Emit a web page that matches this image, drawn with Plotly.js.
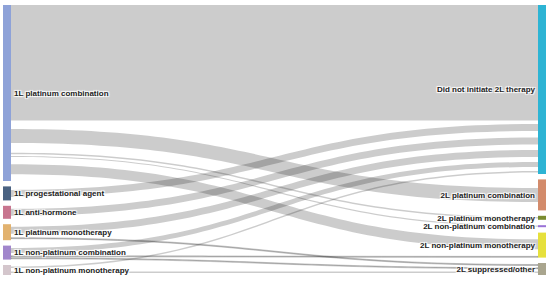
<!DOCTYPE html>
<html>
<head>
<meta charset="utf-8">
<script src="https://cdn.plot.ly/plotly-3.0.1.min.js"></script>
<style>
  html, body { margin: 0; padding: 0; background: #fff; }
  #chart { width: 550px; height: 281px; }
</style>
</head>
<body>
<div id="chart"></div>
<script>
// nodes: first six on the left, last six on the right
let nodeLabels = [
  '1L platinum combination',
  '1L progestational agent',
  '1L anti-hormone',
  '1L platinum monotherapy',
  '1L non-platinum combination',
  '1L non-platinum monotherapy',
  'Did not initiate 2L therapy',
  '2L platinum combination',
  '2L platinum monotherapy',
  '2L non-platinum combination',
  '2L non-platinum monotherapy',
  '2L suppressed/other'
]
let nodeColors = [
  '#8ea2d8', '#4a6282', '#c8758f', '#e2b26f', '#a186cc', '#d4c6cc',
  '#2db4d4', '#d38b6b', '#7a8c30', '#9a72d6', '#e6e03c', '#a9a58e'
]

// flows: full share of each pair, and the part of it drawn in grey
let linkSource = [0, 0, 0, 0, 0, 1, 2, 3, 3, 4, 4, 4, 5, 5]
let linkTarget = [6, 7, 8, 9, 10, 6, 6, 6, 11, 6, 10, 11, 6, 11]
let linkTotal  = [115.5, 31, 4, 2, 23.5, 14, 13, 12, 4, 10, 1.5, 2.5, 4.5, 5.5]
let linkShown  = [115.5, 14, 1.5, 1.2, 10, 7, 7, 7, 1, 5, 1, 1, 1.5, 1.5]

let W = 550, H = 281
let margin = {l: 3, r: 4, t: 5, b: 6}
let pad = 5.4, thick = 8

let src = [], tgt = [], val = [], col = []
let addLink = function(s, t, v, c) {
  if (v <= 0) return
  src.push(s); tgt.push(t); val.push(v); col.push(c)
}
for (let i = 0; i < linkSource.length; i++) {
  let rest = (linkTotal[i] - linkShown[i]) / 2
  addLink(linkSource[i], linkTarget[i], rest, 'rgba(0,0,0,0)')
  addLink(linkSource[i], linkTarget[i], linkShown[i], 'rgba(0,0,0,0.2)')
  addLink(linkSource[i], linkTarget[i], rest, 'rgba(0,0,0,0)')
}

// keep nodes stacked in the given order (no reshuffling by the layout)
let nodeValue = nodeLabels.map(() => 0)
for (let i = 0; i < linkSource.length; i++) {
  nodeValue[linkSource[i]] += linkTotal[i]
  nodeValue[linkTarget[i]] += linkTotal[i]
}
let plotW = W - margin.l - margin.r
let plotH = H - margin.t - margin.b
let leftIdx = [0, 1, 2, 3, 4, 5], rightIdx = [6, 7, 8, 9, 10, 11]
let colSum = idx => idx.reduce((a, k) => a + nodeValue[k], 0)
let ky = Math.min((plotH - 5 * pad) / colSum(leftIdx), (plotH - 5 * pad) / colSum(rightIdx))
let nodeX = [], nodeY = []
let place = function(idx, xfrac) {
  let top = 0
  idx.forEach(k => {
    let h = nodeValue[k] * ky
    nodeX[k] = xfrac
    nodeY[k] = (top + h / 2) / plotH
    top += h + pad
  })
}
place(leftIdx, (thick / 2) / plotW)
place(rightIdx, 1 - (thick / 2) / plotW)

let trace = {
  type: 'sankey',
  arrangement: 'fixed',
  hoverinfo: 'none',
  node: {
    label: nodeLabels,
    color: nodeColors,
    x: nodeX,
    y: nodeY,
    pad: pad,
    thickness: thick,
    line: {width: 0},
    hoverinfo: 'none'
  },
  link: {
    source: src,
    target: tgt,
    value: val,
    color: col,
    hoverinfo: 'none'
  },
  textfont: {family: 'Liberation Sans, Arial, sans-serif', size: 8, weight: 'bold', color: '#222'}
}

let layout = {
  width: W,
  height: H,
  margin: margin,
  paper_bgcolor: '#fff',
  font: {family: 'Liberation Sans, Arial, sans-serif', size: 8, color: '#222'}
}

Plotly.newPlot('chart', [trace], layout, {displayModeBar: false, staticPlot: true})
</script>
</body>
</html>
